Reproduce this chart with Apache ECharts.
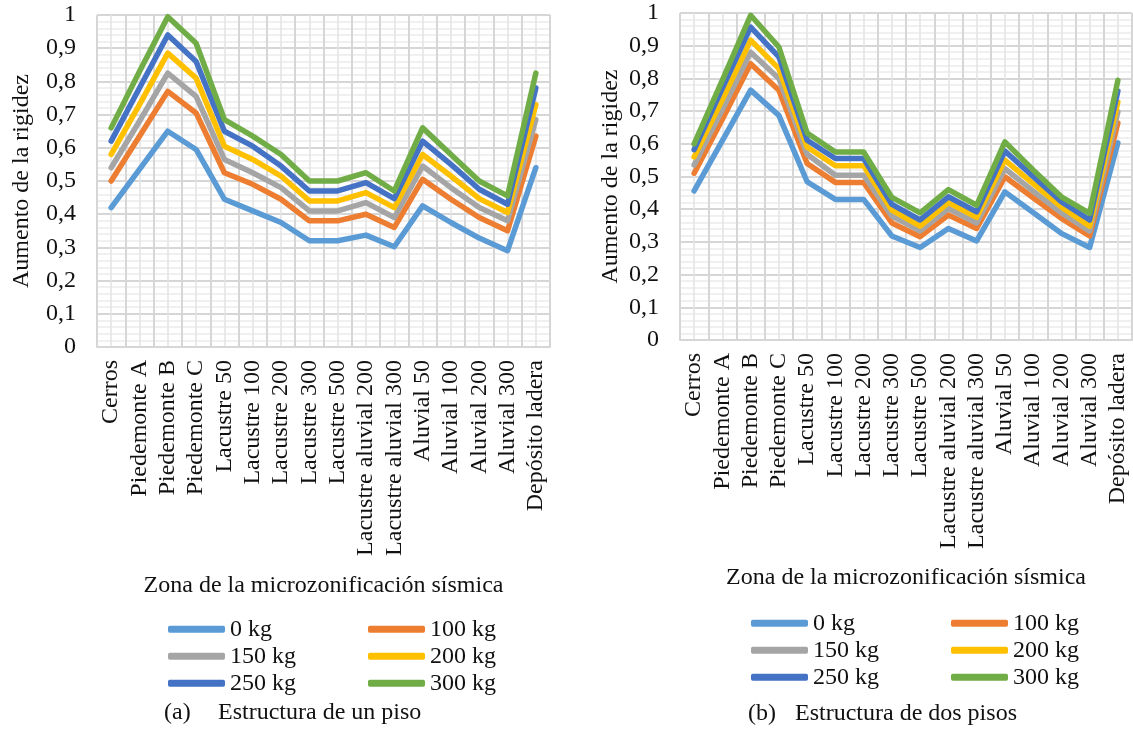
<!DOCTYPE html>
<html>
<head>
<meta charset="utf-8">
<script src="https://cdn.jsdelivr.net/npm/echarts@6/dist/echarts.min.js"></script>
<style>
html,body{margin:0;padding:0;background:#fff;}
#c{width:1133px;height:729px;}
</style>
</head>
<body>
<div id="c"></div>
<script>
var categories = ['Cerros','Piedemonte A','Piedemonte B','Piedemonte C','Lacustre 50','Lacustre 100','Lacustre 200','Lacustre 300','Lacustre 500','Lacustre aluvial 200','Lacustre aluvial 300','Aluvial 50','Aluvial 100','Aluvial 200','Aluvial 300','Depósito ladera'];
var seriesNames = ['0 kg','100 kg','150 kg','200 kg','250 kg','300 kg'];
var yTicks = [0,0.1,0.2,0.3,0.4,0.5,0.6,0.7,0.8,0.9,1];

// (a) Estructura de un piso
var a0   = [0.42,0.535,0.65,0.595,0.445,0.41,0.375,0.32,0.32,0.337,0.302,0.425,0.375,0.328,0.29,0.54];
var a100 = [0.50,0.635,0.77,0.705,0.525,0.49,0.445,0.38,0.38,0.40,0.36,0.505,0.445,0.39,0.35,0.635];
var a150 = [0.54,0.68,0.825,0.755,0.565,0.525,0.48,0.41,0.41,0.435,0.39,0.545,0.48,0.42,0.38,0.685];
var a200 = [0.58,0.73,0.885,0.81,0.605,0.565,0.515,0.44,0.44,0.465,0.42,0.58,0.515,0.447,0.405,0.73];
var a250 = [0.62,0.78,0.94,0.86,0.65,0.605,0.545,0.47,0.47,0.495,0.447,0.62,0.55,0.475,0.43,0.78];
var a300 = [0.66,0.83,0.995,0.915,0.685,0.635,0.58,0.50,0.50,0.525,0.47,0.66,0.58,0.50,0.455,0.825];

// (b) Estructura de dos pisos
var b0   = [0.456,0.61,0.764,0.687,0.484,0.43,0.43,0.318,0.283,0.341,0.303,0.453,0.39,0.326,0.283,0.603];
var b100 = [0.51,0.675,0.845,0.764,0.54,0.482,0.482,0.358,0.316,0.382,0.341,0.499,0.435,0.372,0.318,0.664];
var b150 = [0.535,0.705,0.88,0.80,0.568,0.504,0.504,0.379,0.334,0.402,0.358,0.524,0.455,0.389,0.333,0.698];
var b200 = [0.56,0.735,0.917,0.83,0.59,0.533,0.533,0.397,0.348,0.42,0.375,0.55,0.478,0.407,0.348,0.728];
var b250 = [0.582,0.77,0.957,0.866,0.611,0.555,0.555,0.415,0.367,0.438,0.392,0.578,0.50,0.423,0.367,0.762];
var b300 = [0.60,0.795,0.993,0.896,0.633,0.575,0.575,0.436,0.389,0.46,0.412,0.606,0.52,0.438,0.387,0.794];

var colors = ['#5B9BD5','#ED7D31','#A5A5A5','#FFC000','#4472C4','#70AD47'];
var FONT = 'Liberation Serif';
var TXT = '#111111';

var setA = [a0,a100,a150,a200,a250,a300];
var setB = [b0,b100,b150,b200,b250,b300];

function catAxis(gi, gap) {
  return {
    type: 'category', gridIndex: gi, data: categories, boundaryGap: true,
    axisLine: {show: true, lineStyle: {color: '#d6d6d6', width: 2}},
    axisTick: {show: false},
    splitLine: {show: false},
    axisLabel: {rotate: 90, margin: 13, interval: 0, color: TXT, fontFamily: FONT, fontSize: 24},
    name: 'Zona de la microzonificación sísmica', nameLocation: 'middle', nameGap: gap,
    nameTextStyle: {color: TXT, fontFamily: FONT, fontSize: 24}
  };
}
function gridAxis(gi) {
  return {
    type: 'value', gridIndex: gi, min: 0, max: categories.length, interval: 1,
    position: 'bottom',
    axisLine: {show: false}, axisTick: {show: false}, axisLabel: {show: false},
    splitLine: {show: true, lineStyle: {color: '#d6d6d6', width: 2}},
    minorTick: {show: false, splitNumber: 2},
    minorSplitLine: {show: true, lineStyle: {color: '#e4e4e4', width: 1.5}}
  };
}
function valAxis(gi, nameGap) {
  return {
    type: 'value', gridIndex: gi, min: yTicks[0], max: yTicks[yTicks.length-1], interval: 0.1,
    axisLine: {show: false}, axisTick: {show: false},
    axisLabel: {margin: 21, color: TXT, fontFamily: FONT, fontSize: 24,
      formatter: function (v) { return String(+v.toFixed(1)).replace('.', ','); }},
    splitLine: {show: true, lineStyle: {color: '#d6d6d6', width: 2}},
    minorTick: {show: false, splitNumber: 5},
    minorSplitLine: {show: true, lineStyle: {color: '#ebebeb', width: 1.5}},
    name: 'Aumento de la rigidez', nameLocation: 'middle', nameGap: nameGap, nameRotate: 90,
    nameTextStyle: {color: TXT, fontFamily: FONT, fontSize: 24}
  };
}

var series = [];
function addSeries(set, xi, yi) {
  set.forEach(function (d, i) {
    series.push({
      name: seriesNames[i], type: 'line', xAxisIndex: xi, yAxisIndex: yi, data: d,
      symbol: 'none', color: colors[i], clip: false,
      lineStyle: {width: 5.5, color: colors[i], cap: 'round', join: 'round'},
      emphasis: {disabled: true}
    });
  });
}
addSeries(setA, 0, 0);
addSeries(setB, 2, 1);

function legend(left, top) {
  return {
    data: seriesNames, left: left, top: top, width: 420, orient: 'horizontal',
    icon: 'roundRect', itemWidth: 57, itemHeight: 7, itemGap: 2.5, padding: 0,
    selectedMode: false,
    textStyle: {color: TXT, fontFamily: FONT, fontSize: 24, lineHeight: 24.5, width: 135.5}
  };
}

var capStyle = {color: TXT, fontFamily: FONT, fontSize: 24, fontWeight: 'normal'};

var option = {
  animation: false,
  backgroundColor: '#ffffff',
  grid: [
    {left: 97, top: 15, width: 453, height: 332, containLabel: false},
    {left: 680, top: 13, width: 452, height: 327, containLabel: false}
  ],
  xAxis: [catAxis(0, 227), gridAxis(0), catAxis(1, 226), gridAxis(1)],
  yAxis: [valAxis(0, 63), valAxis(1, 57)],
  legend: [legend(168, 617), legend(751, 611)],
  title: [
    {text: '(a)', left: 164, top: 701, padding: 0, textStyle: capStyle},
    {text: 'Estructura de un piso', left: 218, top: 701, padding: 0, textStyle: capStyle},
    {text: '(b)', left: 748, top: 702, padding: 0, textStyle: capStyle},
    {text: 'Estructura de dos pisos', left: 795, top: 702, padding: 0, textStyle: capStyle}
  ],
  series: series
};

var chart = echarts.init(document.getElementById('c'), null, {renderer: 'canvas'});
chart.setOption(option);
</script>
</body>
</html>
